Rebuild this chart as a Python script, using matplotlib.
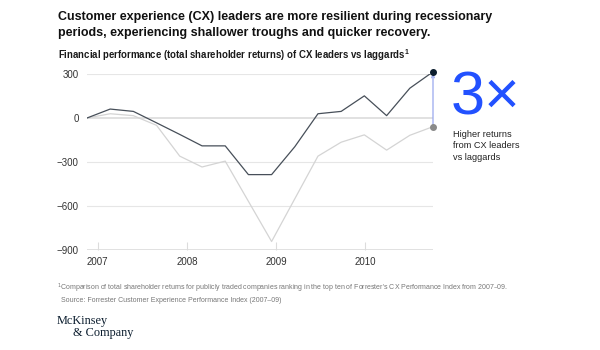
import matplotlib.pyplot as plt

# period positions (decimal years) and total shareholder returns
periods = [2006.88, 2007.14, 2007.40, 2007.66, 2007.92, 2008.17, 2008.43, 2008.69,
           2008.95, 2009.21, 2009.47, 2009.73, 2009.99, 2010.24, 2010.50, 2010.76]
leaders = [0, 61, 45, -33, -112, -190, -190, -386,
           -386, -196, 29, 45, 151, 16, 203, 315]
laggards = [0, 29, 16, -50, -260, -334, -294, -568,
            -842, -551, -260, -165, -115, -219, -118, -59]
year_ticks = [2007, 2008, 2009, 2010]
y_ticks = [300, 0, -300, -600, -900]

plt.rcParams['font.family'] = ['Liberation Sans', 'DejaVu Sans']

fig = plt.figure(figsize=(6, 3.5), dpi=100)
ax = fig.add_axes([87 / 600, 1 - 250 / 350, (433 - 87) / 600, 176 / 350])

ax.set_xlim(periods[0], periods[-1])
ax.set_ylim(-900, 300)

for v in y_ticks:
    ax.axhline(v, color='#e6e6e6' if v not in (0, -900) else '#dcdcdc',
               lw=0.8 if v not in (0, -900) else 1.2, zorder=0)

ax.plot(periods, laggards, color='#d4d4d4', lw=0.9, zorder=2)
ax.plot(periods, leaders, color='#474f59', lw=0.9, zorder=3)

# gap marker between end points
ax.annotate('', xy=(periods[-1], leaders[-1] - 12), xytext=(periods[-1], laggards[-1] + 12),
            arrowprops=dict(arrowstyle='->', color='#9aa8ee', lw=0.9,
                            shrinkA=0, shrinkB=0, mutation_scale=5),
            annotation_clip=False, zorder=4)
ax.scatter([periods[-1]], [leaders[-1]], s=16, color='#0b1d2e', zorder=5, clip_on=False)
ax.scatter([periods[-1]], [laggards[-1]], s=16, color='#8a8a8a', zorder=5, clip_on=False)

for s in ax.spines.values():
    s.set_visible(False)
ax.set_yticks(y_ticks)
ax.set_yticklabels([f'{v:,}'.replace('-', '\u2212') for v in y_ticks])
ax.tick_params(axis='y', length=0, pad=6, labelsize=7, labelcolor='#333333')
ax.set_xticks(year_ticks)
ax.set_xticklabels([str(y) for y in year_ticks])
ax.tick_params(axis='x', direction='in', length=6, width=0.8, color='#dcdcdc',
               pad=5, labelsize=7, labelcolor='#333333')

fig.text(58 / 600, 1 - 25 / 350,
         'Customer experience (CX) leaders are more resilient during recessionary\n'
         'periods, experiencing shallower troughs and quicker recovery.',
         fontsize=9.0, fontweight='bold', va='center', ha='left', linespacing=1.4, color='#111111')
fig.text(58 / 600, 1 - 55 / 350,
         r'Financial performance (total shareholder returns) of CX leaders vs laggards$^{\mathregular{1}}$',
         fontsize=6.9, fontweight='bold', va='center', ha='left', color='#1a1a1a')

fig.text(451 / 600, 1 - 99 / 350, '3\u00d7', fontsize=44, color='#2251ff',
         va='center', ha='left')
fig.text(453 / 600, 1 - 146 / 350, 'Higher returns\nfrom CX leaders\nvs laggards',
         fontsize=6.6, va='center', ha='left', linespacing=1.3, color='#222222')

fig.text(57 / 600, 1 - 288 / 350,
         '$^{1}$Comparison of total shareholder returns for publicly traded companies ranking in the top ten of '
         'Forrester\'s CX Performance Index from 2007\u201309.',
         fontsize=5.05, va='center', ha='left', color='#777777')
fig.text(61 / 600, 1 - 300 / 350,
         'Source: Forrester Customer Experience Performance Index (2007\u201309)',
         fontsize=5.05, va='center', ha='left', color='#777777')

fig.text(57 / 600, 1 - 321 / 350, 'McKinsey', fontsize=8.8, family='Liberation Serif',
         va='center', ha='left', color='#0b1d2e')
fig.text(73 / 600, 1 - 333 / 350, '& Company', fontsize=8.8, family='Liberation Serif',
         va='center', ha='left', color='#0b1d2e')

fig.savefig('out.png', dpi=100)
